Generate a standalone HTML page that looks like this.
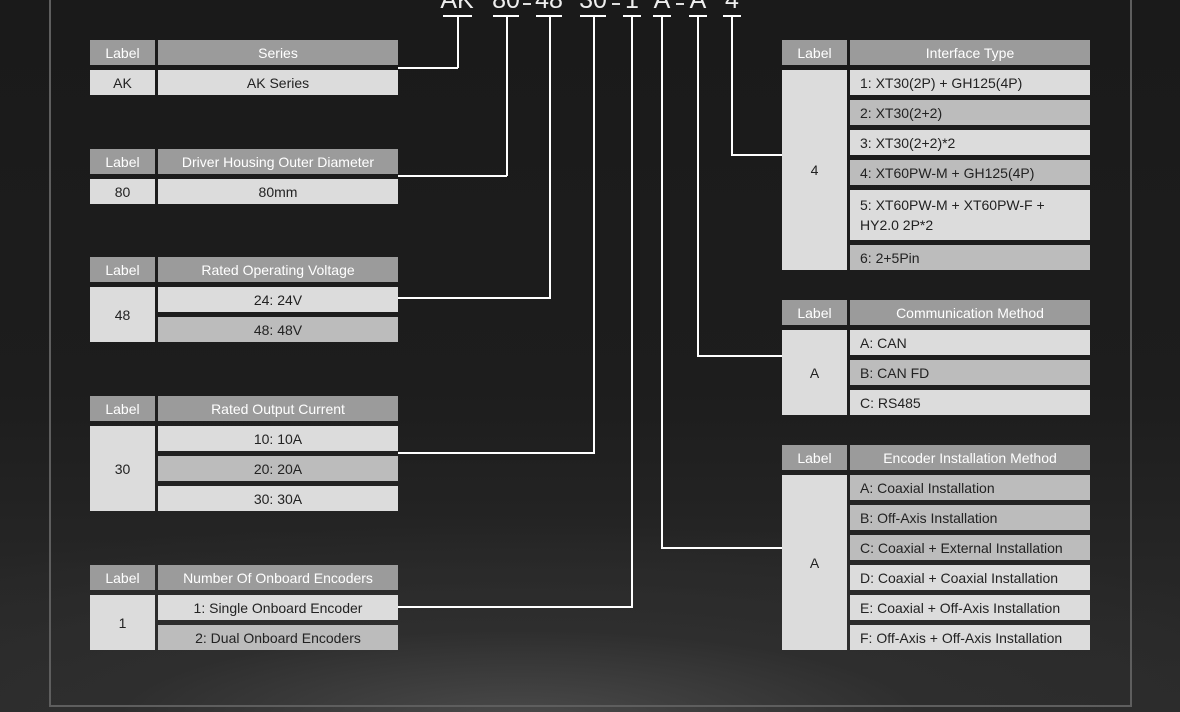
<!DOCTYPE html>
<html><head><meta charset="utf-8"><style>
*{margin:0;padding:0;box-sizing:border-box}
body{width:1180px;height:712px;overflow:hidden;position:relative;font-family:"Liberation Sans","DejaVu Sans",sans-serif;
background:radial-gradient(ellipse 900px 200px at 520px 720px,#4a4a4a 0%,#2e2e2e 45%,rgba(30,30,30,0) 100%),linear-gradient(180deg,#1a1a1a 0%,#1d1d1d 55%,#262626 80%,#2a2a2a 100%);}
.frame{position:absolute;left:49px;top:-10px;width:1083px;height:717px;border:2px solid #5e5e5e;}
.c{position:absolute;font-size:14px;display:flex;align-items:center;color:#222;}
.h{background:#9b9b9b;color:#fff;justify-content:center}
.l{background:#dcdcdc;justify-content:center}
.d{background:#bcbcbc;justify-content:center}
.r{justify-content:flex-start;padding-left:10px}
.line{position:absolute;background:#fff}
.t{position:absolute;top:-13px;color:#eee;font-size:25px;font-weight:normal;transform:translateX(-50%);line-height:26px}
</style></head><body>
<div class="frame"></div>

<!-- top code -->
<div class="t" style="left:457px">AK</div>
<div class="t" style="left:506px">80</div>
<div class="line" style="left:523px;top:3px;width:8px;height:2px;background:#ddd"></div>
<div class="t" style="left:549px">48</div>
<div class="t" style="left:593px">30</div>
<div class="line" style="left:612px;top:3px;width:8px;height:2px;background:#ddd"></div>
<div class="t" style="left:632px">1</div>
<div class="t" style="left:662px">A</div>
<div class="line" style="left:676px;top:3px;width:8px;height:2px;background:#ddd"></div>
<div class="t" style="left:698px">A</div>
<div class="t" style="left:732px">4</div>

<!-- ticks -->
<div class="line" style="left:443px;top:15px;width:29px;height:1.5px"></div>
<div class="line" style="left:493px;top:15px;width:26px;height:1.5px"></div>
<div class="line" style="left:536px;top:15px;width:26px;height:1.5px"></div>
<div class="line" style="left:580px;top:15px;width:26px;height:1.5px"></div>
<div class="line" style="left:623px;top:15px;width:18px;height:1.5px"></div>
<div class="line" style="left:653px;top:15px;width:18px;height:1.5px"></div>
<div class="line" style="left:689px;top:15px;width:18px;height:1.5px"></div>
<div class="line" style="left:723px;top:15px;width:18px;height:1.5px"></div>

<!-- connectors -->
<div class="line" style="left:457px;top:15px;width:1.5px;height:53px"></div>
<div class="line" style="left:398px;top:67px;width:60px;height:1.5px"></div>
<div class="line" style="left:506px;top:15px;width:1.5px;height:161px"></div>
<div class="line" style="left:398px;top:175px;width:109px;height:1.5px"></div>
<div class="line" style="left:549px;top:15px;width:1.5px;height:284px"></div>
<div class="line" style="left:398px;top:297px;width:152px;height:1.5px"></div>
<div class="line" style="left:593px;top:15px;width:1.5px;height:439px"></div>
<div class="line" style="left:398px;top:452px;width:196px;height:1.5px"></div>
<div class="line" style="left:631px;top:15px;width:1.5px;height:592px"></div>
<div class="line" style="left:398px;top:606px;width:235px;height:1.5px"></div>
<div class="line" style="left:661px;top:15px;width:1.5px;height:533px"></div>
<div class="line" style="left:661px;top:547px;width:121px;height:1.5px"></div>
<div class="line" style="left:697px;top:15px;width:1.5px;height:342px"></div>
<div class="line" style="left:697px;top:355px;width:85px;height:1.5px"></div>
<div class="line" style="left:731px;top:15px;width:1.5px;height:141px"></div>
<div class="line" style="left:731px;top:154px;width:51px;height:1.5px"></div>

<!-- T1 -->
<div class="c h" style="left:90px;top:40px;width:65px;height:25px">Label</div>
<div class="c h" style="left:158px;top:40px;width:240px;height:25px">Series</div>
<div class="c l" style="left:90px;top:70px;width:65px;height:25px">AK</div>
<div class="c l" style="left:158px;top:70px;width:240px;height:25px">AK Series</div>
<!-- T2 -->
<div class="c h" style="left:90px;top:149px;width:65px;height:25px">Label</div>
<div class="c h" style="left:158px;top:149px;width:240px;height:25px">Driver Housing Outer Diameter</div>
<div class="c l" style="left:90px;top:179px;width:65px;height:25px">80</div>
<div class="c l" style="left:158px;top:179px;width:240px;height:25px">80mm</div>
<!-- T3 -->
<div class="c h" style="left:90px;top:257px;width:65px;height:25px">Label</div>
<div class="c h" style="left:158px;top:257px;width:240px;height:25px">Rated Operating Voltage</div>
<div class="c l" style="left:90px;top:287px;width:65px;height:55px">48</div>
<div class="c l" style="left:158px;top:287px;width:240px;height:25px">24: 24V</div>
<div class="c d" style="left:158px;top:317px;width:240px;height:25px">48: 48V</div>
<!-- T4 -->
<div class="c h" style="left:90px;top:396px;width:65px;height:25px">Label</div>
<div class="c h" style="left:158px;top:396px;width:240px;height:25px">Rated Output Current</div>
<div class="c l" style="left:90px;top:426px;width:65px;height:85px">30</div>
<div class="c l" style="left:158px;top:426px;width:240px;height:25px">10: 10A</div>
<div class="c d" style="left:158px;top:456px;width:240px;height:25px">20: 20A</div>
<div class="c l" style="left:158px;top:486px;width:240px;height:25px">30: 30A</div>
<!-- T5 -->
<div class="c h" style="left:90px;top:565px;width:65px;height:25px">Label</div>
<div class="c h" style="left:158px;top:565px;width:240px;height:25px">Number Of Onboard Encoders</div>
<div class="c l" style="left:90px;top:595px;width:65px;height:55px">1</div>
<div class="c l" style="left:158px;top:595px;width:240px;height:25px">1: Single Onboard Encoder</div>
<div class="c d" style="left:158px;top:625px;width:240px;height:25px">2: Dual Onboard Encoders</div>

<!-- T6 -->
<div class="c h" style="left:782px;top:40px;width:65px;height:25px">Label</div>
<div class="c h" style="left:850px;top:40px;width:240px;height:25px">Interface Type</div>
<div class="c l" style="left:782px;top:70px;width:65px;height:200px">4</div>
<div class="c l r" style="left:850px;top:70px;width:240px;height:25px">1: XT30(2P) + GH125(4P)</div>
<div class="c d r" style="left:850px;top:100px;width:240px;height:25px">2: XT30(2+2)</div>
<div class="c l r" style="left:850px;top:130px;width:240px;height:25px">3: XT30(2+2)*2</div>
<div class="c d r" style="left:850px;top:160px;width:240px;height:25px">4: XT60PW-M + GH125(4P)</div>
<div class="c l r" style="left:850px;top:190px;width:240px;height:50px;line-height:20px">5: XT60PW-M + XT60PW-F +<br>HY2.0 2P*2</div>
<div class="c d r" style="left:850px;top:245px;width:240px;height:25px">6: 2+5Pin</div>
<!-- T7 -->
<div class="c h" style="left:782px;top:300px;width:65px;height:25px">Label</div>
<div class="c h" style="left:850px;top:300px;width:240px;height:25px">Communication Method</div>
<div class="c l" style="left:782px;top:330px;width:65px;height:85px">A</div>
<div class="c l r" style="left:850px;top:330px;width:240px;height:25px">A: CAN</div>
<div class="c d r" style="left:850px;top:360px;width:240px;height:25px">B: CAN FD</div>
<div class="c l r" style="left:850px;top:390px;width:240px;height:25px">C: RS485</div>
<!-- T8 -->
<div class="c h" style="left:782px;top:445px;width:65px;height:25px">Label</div>
<div class="c h" style="left:850px;top:445px;width:240px;height:25px">Encoder Installation Method</div>
<div class="c l" style="left:782px;top:475px;width:65px;height:175px">A</div>
<div class="c d r" style="left:850px;top:475px;width:240px;height:25px">A: Coaxial Installation</div>
<div class="c d r" style="left:850px;top:505px;width:240px;height:25px">B: Off-Axis Installation</div>
<div class="c d r" style="left:850px;top:535px;width:240px;height:25px">C: Coaxial + External Installation</div>
<div class="c l r" style="left:850px;top:565px;width:240px;height:25px">D: Coaxial + Coaxial Installation</div>
<div class="c l r" style="left:850px;top:595px;width:240px;height:25px">E: Coaxial + Off-Axis Installation</div>
<div class="c l r" style="left:850px;top:625px;width:240px;height:25px">F: Off-Axis + Off-Axis Installation</div>
</body></html>
